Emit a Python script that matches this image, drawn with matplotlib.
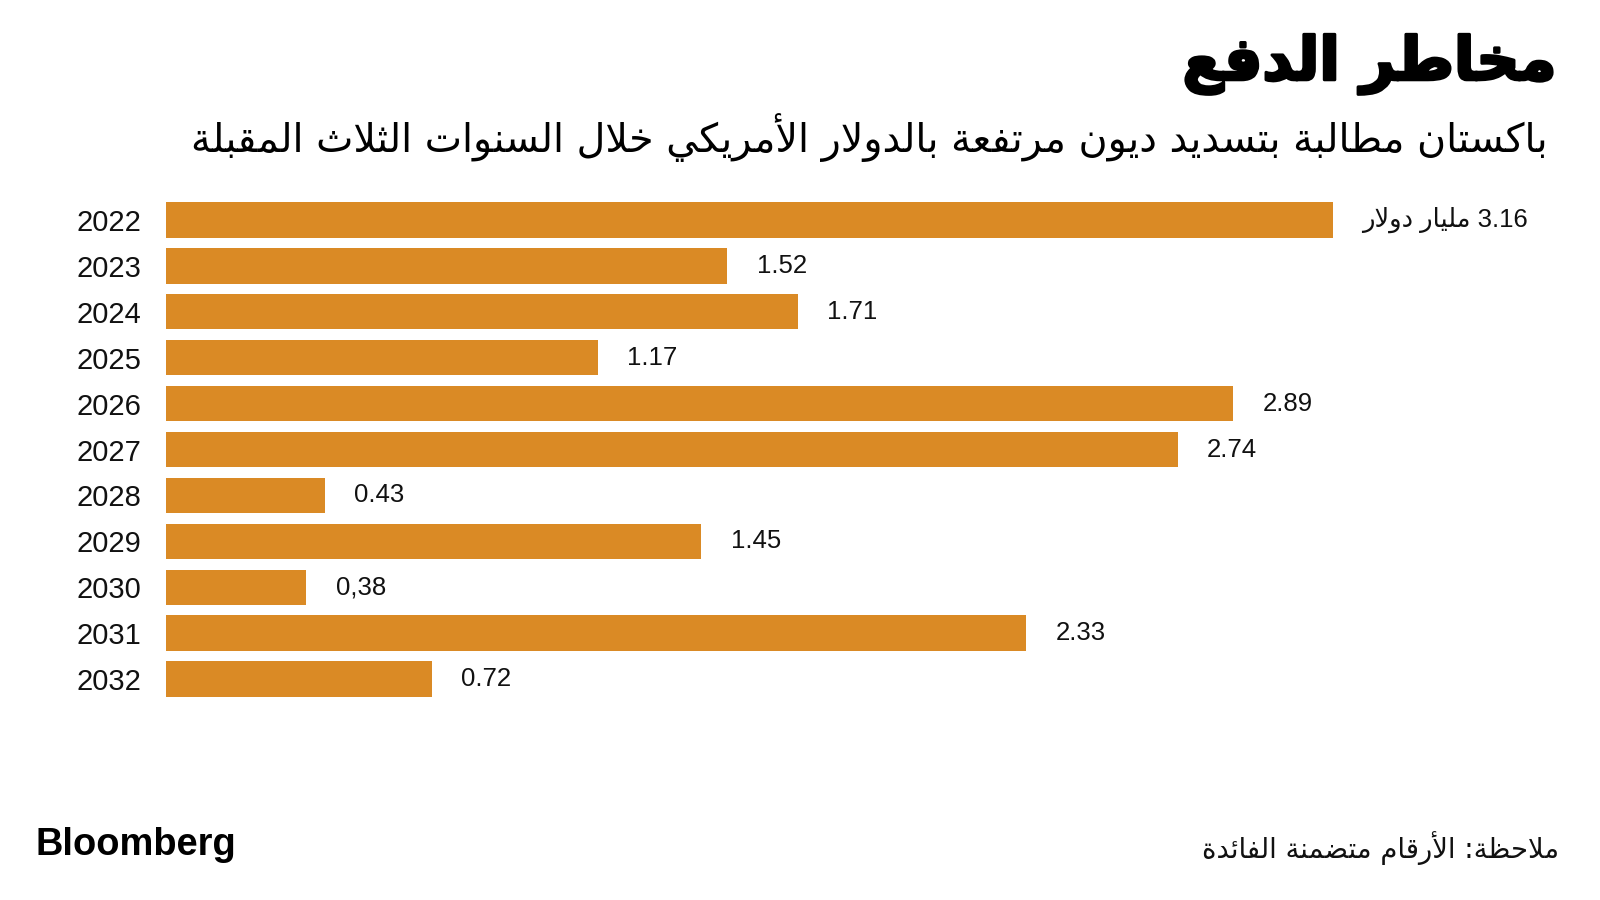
import re
import matplotlib
matplotlib.use("Agg")
import matplotlib.pyplot as plt
import matplotlib.patheffects as pe

# ---------------- data ----------------
years = ["2022", "2023", "2024", "2025", "2026", "2027", "2028", "2029", "2030", "2031", "2032"]
values = [3.16, 1.52, 1.71, 1.17, 2.89, 2.74, 0.43, 1.45, 0.38, 2.33, 0.72]
value_labels = ["3.16 مليار دولار", "1.52", "1.71", "1.17", "2.89", "2.74", "0.43", "1.45", "0,38", "2.33", "0.72"]
title = "مخاطر الدفع"
subtitle = "باكستان مطالبة بتسديد ديون مرتفعة بالدولار الأمريكي خلال السنوات الثلاث المقبلة"
note = "ملاحظة: الأرقام متضمنة الفائدة"
source = "Bloomberg"

# ---------------- minimal Arabic shaping + RTL ----------------
DUAL = {'\u0626': 0xFE89, '\u0628': 0xFE8F, '\u062A': 0xFE95, '\u062B': 0xFE99, '\u062C': 0xFE9D,
        '\u062D': 0xFEA1, '\u062E': 0xFEA5, '\u0633': 0xFEB1, '\u0634': 0xFEB5, '\u0635': 0xFEB9,
        '\u0636': 0xFEBD, '\u0637': 0xFEC1, '\u0638': 0xFEC5, '\u0639': 0xFEC9, '\u063A': 0xFECD,
        '\u0641': 0xFED1, '\u0642': 0xFED5, '\u0643': 0xFED9, '\u0644': 0xFEDD, '\u0645': 0xFEE1,
        '\u0646': 0xFEE5, '\u0647': 0xFEE9, '\u064A': 0xFEF1}
RIGHT = {'\u0622': 0xFE81, '\u0623': 0xFE83, '\u0624': 0xFE85, '\u0625': 0xFE87, '\u0627': 0xFE8D,
         '\u0629': 0xFE93, '\u062F': 0xFEA9, '\u0630': 0xFEAB, '\u0631': 0xFEAD, '\u0632': 0xFEAF,
         '\u0648': 0xFEED, '\u0649': 0xFEEF,
         '\u0644\u0627': 0xFEFB, '\u0644\u0623': 0xFEF7, '\u0644\u0625': 0xFEF9, '\u0644\u0622': 0xFEF5}
NONE = {'\u0621': 0xFE80}


def shape(s):
    toks = []
    i = 0
    while i < len(s):
        if s[i] == '\u0644' and i + 1 < len(s) and s[i + 1] in '\u0627\u0623\u0625\u0622':
            toks.append(s[i:i + 2])
            i += 2
        else:
            toks.append(s[i])
            i += 1
    out = []
    for k, t in enumerate(toks):
        if t in DUAL or t in RIGHT:
            prev = toks[k - 1] if k > 0 else None
            nxt = toks[k + 1] if k + 1 < len(toks) else None
            p = prev in DUAL
            n = (t in DUAL) and (nxt in DUAL or nxt in RIGHT)
            base = DUAL[t] if t in DUAL else RIGHT[t]
            off = 3 if (p and n) else 1 if p else 2 if n else 0
            out.append(chr(base + off))
        elif t in NONE:
            out.append(chr(NONE[t]))
        else:
            out.append(t)
    shaped = "".join(out)
    parts = re.findall(r'[0-9]+(?:[.,][0-9]+)*|[^0-9]+', shaped)
    parts = [p if re.match(r'[0-9]', p) else p[::-1] for p in parts]
    return "".join(parts[::-1])


# ---------------- figure ----------------
W, H = 1600, 900
fig = plt.figure(figsize=(16, 9), dpi=100)
fig.patch.set_facecolor("white")

BAR = "#DA8A25"
latin = ["Liberation Sans", "DejaVu Sans"]

x0, x1 = 166, 1333
top, bot = 197, 702
ax = fig.add_axes([x0 / W, (H - bot) / H, (x1 - x0) / W, (bot - top) / H])
ax.set_xlim(0, max(values))
ax.set_ylim(len(years) - 0.5, -0.5)
ypos = list(range(len(years)))
ax.barh(ypos, values, height=0.77, color=BAR)
ax.set_yticks(ypos)
ax.set_yticklabels(years, fontfamily=latin, fontsize=21, color="#111111")
ax.tick_params(axis="y", length=0, pad=18)
ax.set_xticks([])
for s in ax.spines.values():
    s.set_visible(False)

for y, v, lab in zip(ypos, values, value_labels):
    ax.annotate(shape(lab), xy=(v, y), xytext=(21, 0), textcoords="offset points",
                ha="left", va="center", fontsize=18.5, family=latin, color="#111111",
                annotation_clip=False)

fig.text(1556 / W, 1 - 64 / H, shape(title), ha="right", va="center",
         fontsize=43, fontweight="bold", family=["DejaVu Sans"], color="black",
         path_effects=[pe.withStroke(linewidth=2.2, foreground="black")])
fig.text(1548 / W, 1 - 138 / H, shape(subtitle), ha="right", va="center",
         fontsize=28.5, family=["DejaVu Sans"], color="black")
fig.text(1559 / W, 1 - 848 / H, shape(note), ha="right", va="center",
         fontsize=19.8, family=["DejaVu Sans"], color="#111111")
fig.text(36 / W, 1 - 845 / H, source, ha="left", va="center",
         fontsize=27.4, fontweight="bold", family=latin, color="black")

fig.savefig("out.png", dpi=100, facecolor="white")
